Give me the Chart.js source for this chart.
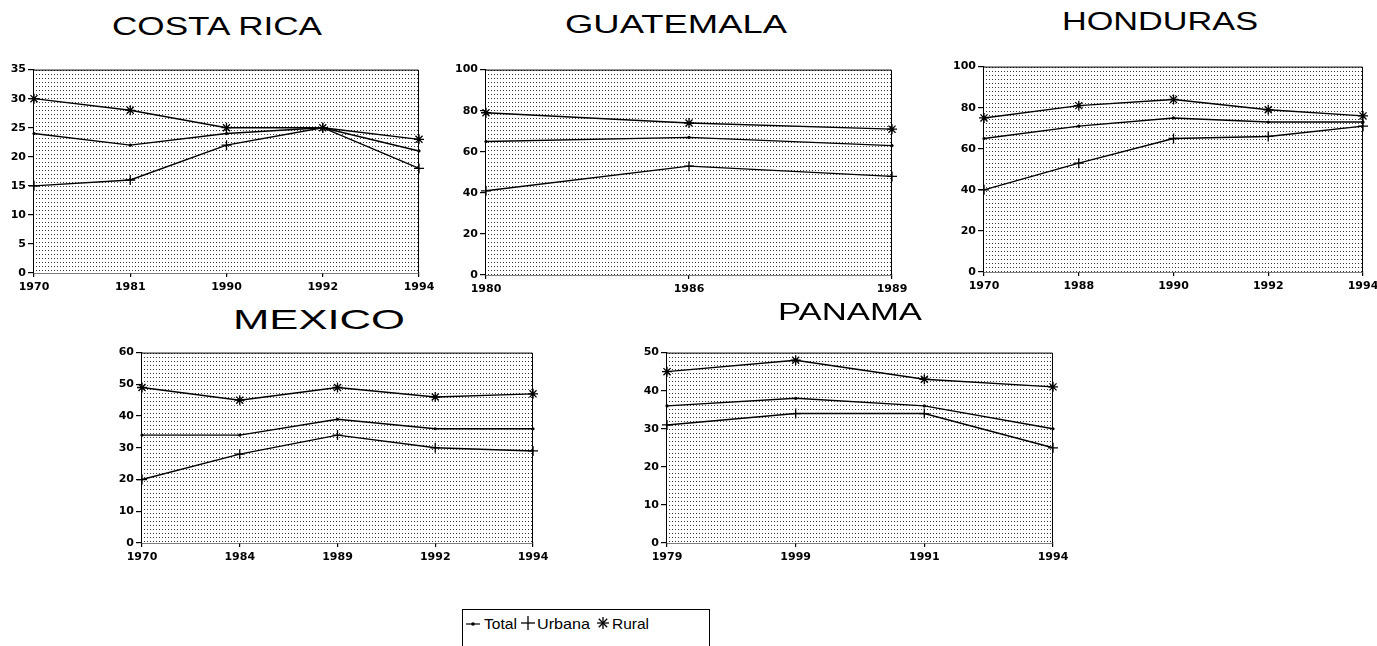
<!DOCTYPE html>
<html>
<head>
<meta charset="utf-8">
<script src="https://cdn.jsdelivr.net/npm/chart.js@4.4.1/dist/chart.umd.min.js"></script>
<style>
  body { margin: 0; background: #fff; width: 1377px; height: 646px; overflow: hidden; position: relative; }
  .panel { position: absolute; }
  .title { position: absolute; font-family: "Liberation Sans", Arial, sans-serif; color: #000; white-space: nowrap; transform-origin: 0 0; }
  #legend { position: absolute; left: 462px; top: 609px; width: 246px; height: 60px; border: 1px solid #000; font-family: "Liberation Sans", Arial, sans-serif; font-size: 15px; color: #000; }
  #legend span { position: absolute; top: 5px; white-space: nowrap; transform-origin: 0 0; }
  #legend svg { position: absolute; }
</style>
</head>
<body>

<div id="legend">
  <svg style="left:3px;top:9px" width="14" height="10"><line x1="0" y1="5" x2="14" y2="5" stroke="#000" stroke-width="1.2"/><circle cx="7" cy="5" r="1.8" fill="#000"/></svg>
  <span style="left:21px" data-w="33">Total</span>
  <svg style="left:58px;top:6px" width="14" height="14"><line x1="0" y1="7" x2="14" y2="7" stroke="#000" stroke-width="1.3"/><line x1="7" y1="0" x2="7" y2="14" stroke="#000" stroke-width="1.3"/></svg>
  <span style="left:74px" data-w="53">Urbana</span>
  <svg style="left:134px;top:7px" width="12" height="12"><g stroke="#000" stroke-width="1.3"><line x1="0" y1="6" x2="12" y2="6"/><line x1="6" y1="0" x2="6" y2="12"/><line x1="1.8" y1="1.8" x2="10.2" y2="10.2"/><line x1="10.2" y1="1.8" x2="1.8" y2="10.2"/></g></svg>
  <span style="left:149px" data-w="37">Rural</span>
</div>

<script>
// ---- data ----
const seriesNames = ['Total', 'Urbana', 'Rural'];

const crYears = ['1970', '1981', '1990', '1992', '1994'];
const crTotal = [24, 22, 24, 25, 21];
const crUrbana = [15, 16, 22, 25, 18];
const crRural = [30, 28, 25, 25, 23];

const guYears = ['1980', '1986', '1989'];
const guTotal = [65, 67, 63];
const guUrbana = [41, 53, 48];
const guRural = [79, 74, 71];

const hoYears = ['1970', '1988', '1990', '1992', '1994'];
const hoTotal = [65, 71, 75, 73, 73];
const hoUrbana = [40, 53, 65, 66, 71];
const hoRural = [75, 81, 84, 79, 76];

const mxYears = ['1970', '1984', '1989', '1992', '1994'];
const mxTotal = [34, 34, 39, 36, 36];
const mxUrbana = [20, 28, 34, 30, 29];
const mxRural = [49, 45, 49, 46, 47];

const paYears = ['1979', '1999', '1991', '1994'];
const paTotal = [36, 38, 36, 30];
const paUrbana = [31, 34, 34, 25];
const paRural = [45, 48, 43, 41];

// stretch legend words to the widths seen in the picture
document.querySelectorAll('#legend span').forEach(s => {
    const k = +s.dataset.w / s.getBoundingClientRect().width;
    s.style.transform = 'scaleX(' + k + ')';
});

// ---- dotted plot background ----
const tile = document.createElement('canvas');
tile.width = 3; tile.height = 4;
const tctx = tile.getContext('2d');
tctx.fillStyle = '#fff';
tctx.fillRect(0, 0, 3, 4);
tctx.fillStyle = '#333';
tctx.fillRect(1, 1, 1, 1);

const dotBg = {
    id: 'dotBg',
    beforeDatasetsDraw(chart) {
        const ctx = chart.ctx, a = chart.chartArea;
        ctx.save();
        ctx.fillStyle = ctx.createPattern(tile, 'repeat');
        ctx.fillRect(a.left, a.top, a.right - a.left, a.bottom - a.top);
        ctx.strokeStyle = '#000';
        ctx.lineWidth = 1;
        ctx.beginPath();
        ctx.moveTo(a.left, a.top + 0.5);
        ctx.lineTo(a.right - 0.5, a.top + 0.5);
        ctx.lineTo(a.right - 0.5, a.bottom);
        ctx.stroke();
        ctx.restore();
    }
};

const YW = 32, XH = 26, PT = 8, PR = 24;
const tickFont = { family: '"DejaVu Sans", Verdana, sans-serif', size: 11, weight: 'bold' };

function makePanel(box, title, years, total, urbana, rural, yMax, yStep) {
    const wrap = document.createElement('div');
    wrap.className = 'panel';
    const w = box.r - box.l + YW + PR;
    const h = box.b - box.t + XH + PT;
    wrap.style.left = (box.l - YW) + 'px';
    wrap.style.top = (box.t - PT) + 'px';
    wrap.style.width = w + 'px';
    wrap.style.height = h + 'px';
    const cv = document.createElement('canvas');
    cv.width = w; cv.height = h;
    wrap.appendChild(cv);
    document.body.appendChild(wrap);

    // title
    const t = document.createElement('div');
    t.className = 'title';
    t.textContent = title.text;
    t.style.fontSize = title.size + 'px';
    t.style.lineHeight = title.size + 'px';
    t.style.left = title.x1 + 'px';
    t.style.top = (title.capTop - 0.13 * title.size) + 'px';
    document.body.appendChild(t);
    const sx = (title.x2 - title.x1) / t.getBoundingClientRect().width;
    t.style.transform = 'scaleX(' + sx + ')';

    const line = { borderColor: '#000', borderWidth: 1.4, pointBorderColor: '#000', pointBackgroundColor: '#000', tension: 0 };
    new Chart(cv, {
        type: 'line',
        data: {
            labels: years,
            datasets: [
                Object.assign({ label: seriesNames[0], data: total, pointStyle: 'circle', pointRadius: 1.6, pointBorderWidth: 0 }, line),
                Object.assign({ label: seriesNames[1], data: urbana, pointStyle: 'cross', pointRadius: 5, pointBorderWidth: 1.3 }, line),
                Object.assign({ label: seriesNames[2], data: rural, pointStyle: 'star', pointRadius: 5, pointBorderWidth: 1.3 }, line)
            ]
        },
        options: {
            responsive: false,
            animation: false,
            clip: false,
            layout: { padding: { top: PT, right: PR, left: 0, bottom: 0 } },
            plugins: { legend: { display: false }, tooltip: { enabled: false } },
            scales: {
                x: {
                    type: 'category',
                    offset: false,
                    afterFit: s => { s.height = XH; },
                    grid: { drawOnChartArea: false, drawTicks: true, tickLength: 4, color: '#000', lineWidth: 1.2 },
                    border: { color: '#000', width: 1.5 },
                    ticks: { color: '#000', font: tickFont, maxRotation: 0, autoSkip: false, padding: 4 }
                },
                y: {
                    min: 0, max: yMax,
                    afterFit: s => { s.width = YW; },
                    grid: { drawOnChartArea: false, drawTicks: true, tickLength: 6, color: '#000', lineWidth: 1.2 },
                    border: { color: '#000', width: 1.5 },
                    ticks: { color: '#000', font: tickFont, stepSize: yStep, padding: 2 }
                }
            }
        },
        plugins: [dotBg]
    });
}

makePanel({ l: 34, t: 69, r: 419, b: 273 }, { text: 'COSTA RICA', size: 25, x1: 112, x2: 322, capTop: 17 },
    crYears, crTotal, crUrbana, crRural, 35, 5);
makePanel({ l: 486, t: 69, r: 892, b: 275 }, { text: 'GUATEMALA', size: 25, x1: 565, x2: 787, capTop: 15 },
    guYears, guTotal, guUrbana, guRural, 100, 20);
makePanel({ l: 984, t: 66, r: 1363, b: 272 }, { text: 'HONDURAS', size: 25, x1: 1062, x2: 1258, capTop: 12 },
    hoYears, hoTotal, hoUrbana, hoRural, 100, 20);
makePanel({ l: 142, t: 352, r: 533, b: 543 }, { text: 'MEXICO', size: 28, x1: 233, x2: 405, capTop: 310 },
    mxYears, mxTotal, mxUrbana, mxRural, 60, 10);
makePanel({ l: 667, t: 352, r: 1053, b: 543 }, { text: 'PANAMA', size: 24, x1: 778, x2: 922, capTop: 303 },
    paYears, paTotal, paUrbana, paRural, 50, 10);
</script>
</body>
</html>
